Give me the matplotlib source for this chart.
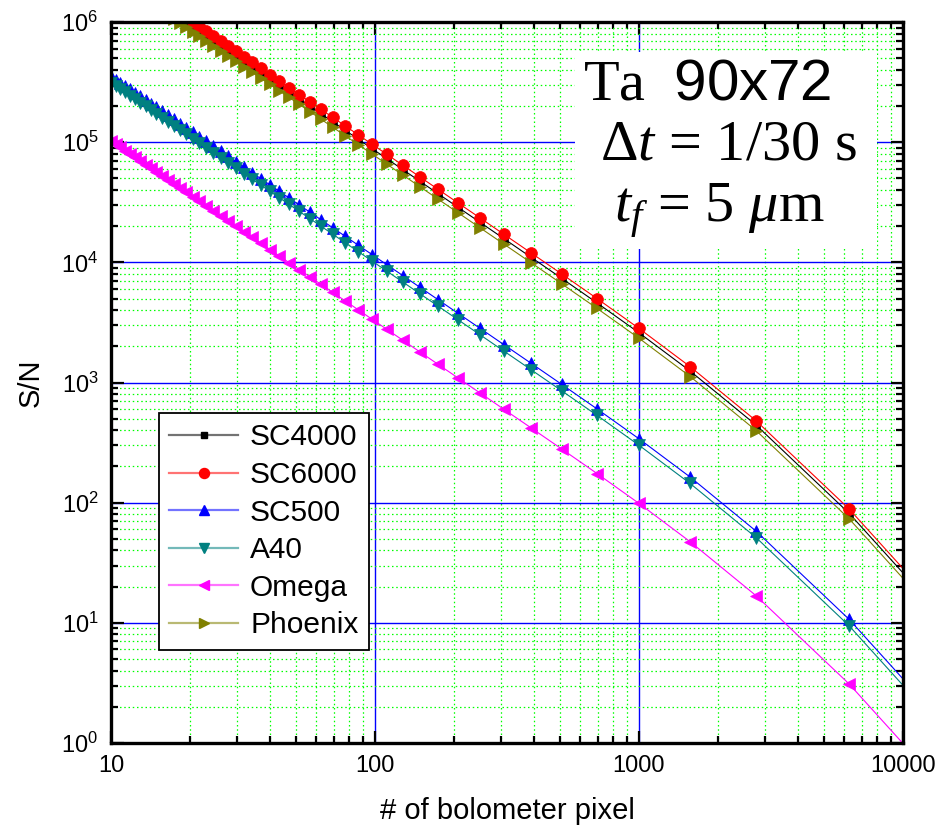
import numpy as np
import matplotlib
matplotlib.use("Agg")
import matplotlib.pyplot as plt
from matplotlib.lines import Line2D
from matplotlib.legend_handler import HandlerTuple
from matplotlib.patches import Rectangle
from matplotlib.ticker import LogLocator, NullFormatter

plt.rcParams['font.family'] = ['Liberation Sans', 'DejaVu Sans']
plt.rcParams['mathtext.fontset'] = 'custom'
plt.rcParams['mathtext.rm'] = 'Liberation Serif'
plt.rcParams['mathtext.it'] = 'Liberation Serif:italic'
plt.rcParams['mathtext.sf'] = 'Liberation Sans'

# number of bolometer pixels for each binning step (largest first)
pixels = [25000, 6250, 2778, 1562.5, 1000, 694.4, 510.2, 390.6, 308.6, 250,
          206.6, 173.6, 147.9, 127.6, 111.1, 97.66, 86.51, 77.16, 69.25, 62.5,
          56.69, 51.65, 47.26, 43.40, 40.0, 36.98, 34.29, 31.89, 29.73, 27.78,
          26.01, 24.41, 22.96, 21.63, 20.41, 19.29, 18.26, 17.31, 16.44, 15.63,
          14.87, 14.17, 13.52, 12.91, 12.35, 11.81, 11.32, 10.85, 10.41, 10.0]

sc4000 = [2.81, 81.5, 442, 1245, 2592, 4587, 7346, 11001, 15683, 21527,
          28651, 37199, 47293, 59070, 72641, 88184, 105752, 125556, 147648, 172212,
          199354, 229205, 261922, 297585, 336351, 378352, 423693, 472558, 525001, 581230,
          641299, 705392, 773588, 846071, 922946, 1004344, 1090372]
sc6000 = [3.06, 88.6, 480, 1354, 2819, 4988, 7988, 11963, 17054, 23409,
          31157, 40452, 51429, 64236, 78993, 95896, 115001, 136536, 160560, 187273,
          216788, 249249, 284827, 323609, 365765, 411440, 460746, 513885, 570913, 632060,
          697382, 767081, 841240, 920062, 1003660, 1092177]
sc500 = [0.369, 10.69, 57.9, 163.3, 340.1, 601.7, 963.6, 1443, 2057, 2824,
         3758, 4880, 6204, 7749, 9529, 11568, 13872, 16470, 19368, 22591,
         26151, 30067, 34359, 39037, 44122, 49632, 55580, 61990, 68869, 76245,
         84125, 92532, 101478, 110987, 121071, 131749, 143034, 154950, 167508, 180725,
         194621, 209211, 224512, 240544, 257322, 274858, 293178, 312294, 332221, 352980]
a40 = [0.326, 9.45, 51.2, 144.4, 300.6, 531.9, 851.9, 1276, 1819, 2496,
       3323, 4314, 5484, 6850, 8424, 10227, 12264, 14561, 17123, 19971,
       23119, 26581, 30375, 34511, 39006, 43877, 49136, 54802, 60884, 67405,
       74371, 81804, 89713, 98119, 107034, 116473, 126450, 136985, 148087, 159771,
       172057, 184955, 198482, 212655, 227487, 242990, 259186, 276086, 293703, 312055]
omega = [0.107, 3.10, 16.8, 47.3, 98.6, 174.4, 279.3, 418.3, 596.3, 818.5,
         1089, 1414, 1798, 2246, 2762, 3353, 4021, 4774, 5614, 6548,
         7580, 8715, 9959, 11315, 12789, 14386, 16110, 17968, 19962, 22100,
         24384, 26821, 29414, 32170, 35093, 38188, 41459, 44913, 48553, 52384,
         56412, 60641, 65076, 69723, 74586, 79669, 84979, 90520, 96296, 102313]
phoenix = [2.54, 73.4, 398, 1122, 2336, 4133, 6619, 9914, 14132, 19398,
           25819, 33521, 42617, 53230, 65459, 79466, 95298, 113144, 133052, 155188,
           179646, 206546, 236028, 268166, 303099, 340948, 381807, 425842, 473099, 523770,
           577901, 635658, 697112, 762429, 831704, 905056, 982578, 1064438]

series = [
    ("SC4000", sc4000, "black", "s", 5.5),
    ("SC6000", sc6000, "#FF0000", "o", 8.5),
    ("SC500", sc500, "#0000FF", "^", 9),
    ("A40", a40, "#008080", "v", 9),
    ("Omega", omega, "#FF00FF", "<", 9),
    ("Phoenix", phoenix, "#808000", ">", 9),
]

x_ticks = [10, 100, 1000, 10000]
x_tick_labels = ["10", "100", "1000", "10000"]
y_ticks = [1, 10, 100, 1e3, 1e4, 1e5, 1e6]

fig = plt.figure(figsize=(9.38, 8.31), dpi=100)
ax = fig.add_axes([0.1183, 0.1059, 0.8444, 0.8676])

handles = []
for name, vals, color, mk, ms in series:
    ax.plot(pixels[:len(vals)], vals, color=color, lw=0.8, marker=mk,
            markersize=ms, markeredgewidth=0.5, markeredgecolor=color, zorder=2)
    h_line = Line2D([], [], color=color, lw=1.6, alpha=0.55)
    h_mark = Line2D([], [], color=color, lw=0, marker=mk, markersize=ms * 0.85,
                    markeredgecolor=color)
    handles.append((h_line, h_mark))

ax.set_xscale("log")
ax.set_yscale("log")
ax.set_xlim(10, 10000)
ax.set_ylim(1, 1e6)

ax.set_xticks(x_ticks)
ax.set_xticklabels(x_tick_labels)
ax.set_yticks(y_ticks)
ax.xaxis.set_minor_locator(LogLocator(base=10, subs=np.arange(2, 10), numticks=100))
ax.xaxis.set_minor_formatter(NullFormatter())
ax.yaxis.set_minor_locator(LogLocator(base=10, subs=np.arange(2, 10), numticks=100))
ax.yaxis.set_minor_formatter(NullFormatter())
ax.set_xlim(10, 10000)
ax.set_ylim(1, 1e6)

ax.grid(which="major", color="#0000FF", lw=1.0, ls="-")
ax.grid(which="minor", color="#00FF00", lw=0.9, ls=(0, (1.2, 2.2)))

for sp in ax.spines.values():
    sp.set_linewidth(2.4)
ax.tick_params(which="both", direction="in", top=True, right=True, width=1.6)
ax.tick_params(which="major", length=9, labelsize=17, pad=9)
ax.tick_params(which="minor", length=5)

ax.set_xlabel("# of bolometer pixel", fontsize=21, labelpad=14)
ax.set_ylabel("S/N", fontsize=21, labelpad=12)

leg = ax.legend(handles, [s[0] for s in series], loc="upper left",
                bbox_to_anchor=(0.0606, 0.4577), borderaxespad=0,
                handler_map={tuple: HandlerTuple(ndivide=1)},
                fontsize=21.5, handlelength=2.3, handletextpad=0.4,
                labelspacing=0.32, borderpad=0.35, fancybox=False,
                framealpha=1, edgecolor="black")
leg.get_frame().set_linewidth(1.3)
leg.set_zorder(5)

# parameter box in the upper right
ax.add_patch(Rectangle((0.586, 0.685), 0.381, 0.273, transform=ax.transAxes,
                       facecolor="white", edgecolor="none", zorder=3))
tx = 0.763
ax.text(tx - 0.01, 0.892, r"Ta  $\mathsf{90x72}$", transform=ax.transAxes, ha="center",
        va="baseline", fontsize=42, family="Liberation Serif", zorder=4)
ax.text(tx + 0.017, 0.809, r"$\Delta t$ = 1/30 s", transform=ax.transAxes,
        ha="center", va="baseline", fontsize=42, family="Liberation Serif", zorder=4)
ax.text(tx + 0.005, 0.722, r"$t_f$ = 5 $\mu$m", transform=ax.transAxes, ha="center",
        va="baseline", fontsize=42, family="Liberation Serif", zorder=4)

fig.savefig("out.png", dpi=100)
